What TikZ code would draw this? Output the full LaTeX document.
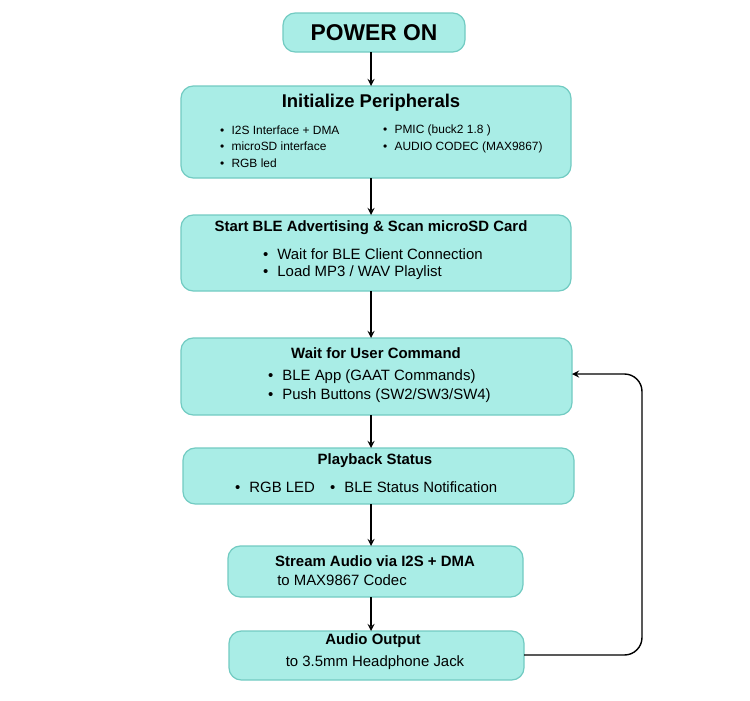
\documentclass[tikz,border=0pt]{standalone}
\usepackage{fontspec}
\setmainfont{Liberation Sans}
\usepackage{xcolor}
\usetikzlibrary{calc}
\definecolor{boxfill}{HTML}{A9EDE6}
\definecolor{boxline}{HTML}{72CBC2}
\tikzset{
  box/.style={draw=boxline,fill=boxfill,rounded corners=7pt,line width=0.7pt},
  flow/.style={->,>=stealth,thick},
  ttl/.style={font=\bfseries\fontsize{8.5}{10}\selectfont},
  txt/.style={font=\fontsize{8.5}{10}\selectfont,align=left,anchor=west},
  sml/.style={font=\fontsize{6.8}{10}\selectfont,align=left,anchor=west}
}
\def\bl{\textbullet\hspace{0.6em}}
\begin{document}
\begin{tikzpicture}[x=0.02cm,y=-0.02cm]
        \useasboundingbox (0,0) rectangle (750,700);
        % boxes
        \draw[box] (283,13) rectangle (465,52) coordinate (pwrC);
        \node (pwr) at (374,32.5) {\bfseries\fontsize{13}{15}\selectfont POWER ON};
        \coordinate (pwrB) at (371,52);

        \draw[box] (181,86) rectangle (571,178);
        \node (init) at (371,103) {\bfseries\fontsize{10.5}{12}\selectfont Initialize Peripherals};
        \node[sml] (i1) at (214,130) {\bl I2S Interface + DMA};
        \node[sml] (i2) at (214,146) {\bl microSD interface};
        \node[sml] (i3) at (214,163) {\bl RGB led};
        \node[sml] (i4) at (377,130) {\bl PMIC (buck2 1.8 )};
        \node[sml] (i5) at (377,147) {\bl AUDIO CODEC (MAX9867)};

        \draw[box] (181,215) rectangle (571,291);
        \node[ttl] (ble) at (371,228) {Start BLE Advertising \& Scan microSD Card};
        \node[txt] (b1) at (257,254) {\bl Wait for BLE Client Connection};
        \node[txt] (b2) at (257,273) {\bl Load MP3 / WAV Playlist};

        \draw[box] (181,338) rectangle (572,415);
        \node[ttl] (wait) at (376,353) {Wait for User Command};
        \node[txt] (w1) at (262,377) {\bl BLE App (GAAT Commands)};
        \node[txt] (w2) at (262,396) {\bl Push Buttons (SW2/SW3/SW4)};

        \draw[box] (183,448) rectangle (574,504);
        \node[ttl] (play) at (375,461) {Playback Status};
        \node[txt] (p1) at (229,487) {\bl RGB LED};
        \node[txt] (p2) at (324,487) {\bl BLE Status Notification};

        \draw[box] (228,546) rectangle (523,597);
        \node[ttl] (strm) at (375,561) {Stream Audio via I2S + DMA};
        \node[font=\fontsize{8.5}{10}\selectfont] (s1) at (342,580) {to MAX9867 Codec};

        \draw[box] (229,631) rectangle (524,680);
        \node[ttl] (aout) at (373,641) {Audio Output};
        \node[font=\fontsize{8.5}{10}\selectfont] (a1) at (375,663) {to 3.5mm Headphone Jack};

        % connectors
        \coordinate (c1) at (371,52);  \coordinate (c2) at (371,86);
        \coordinate (c3) at (371,178); \coordinate (c4) at (371,215);
        \coordinate (c5) at (371,291); \coordinate (c6) at (371,338);
        \coordinate (c7) at (371,415); \coordinate (c8) at (371,448);
        \coordinate (c9) at (371,504); \coordinate (c10) at (371,546);
        \coordinate (c11) at (371,597); \coordinate (c12) at (371,631);
        \foreach \a/\b in {c1/c2,c3/c4,c5/c6,c7/c8,c9/c10,c11/c12}
            \draw[flow] (\a)--(\b);
        \coordinate (lpS) at (524,655);
        \coordinate (lpE) at (572,374);
        \draw[flow,rounded corners=10pt] (lpS)--(642,655)--(642,374)--(lpE);
\end{tikzpicture}
\end{document}
